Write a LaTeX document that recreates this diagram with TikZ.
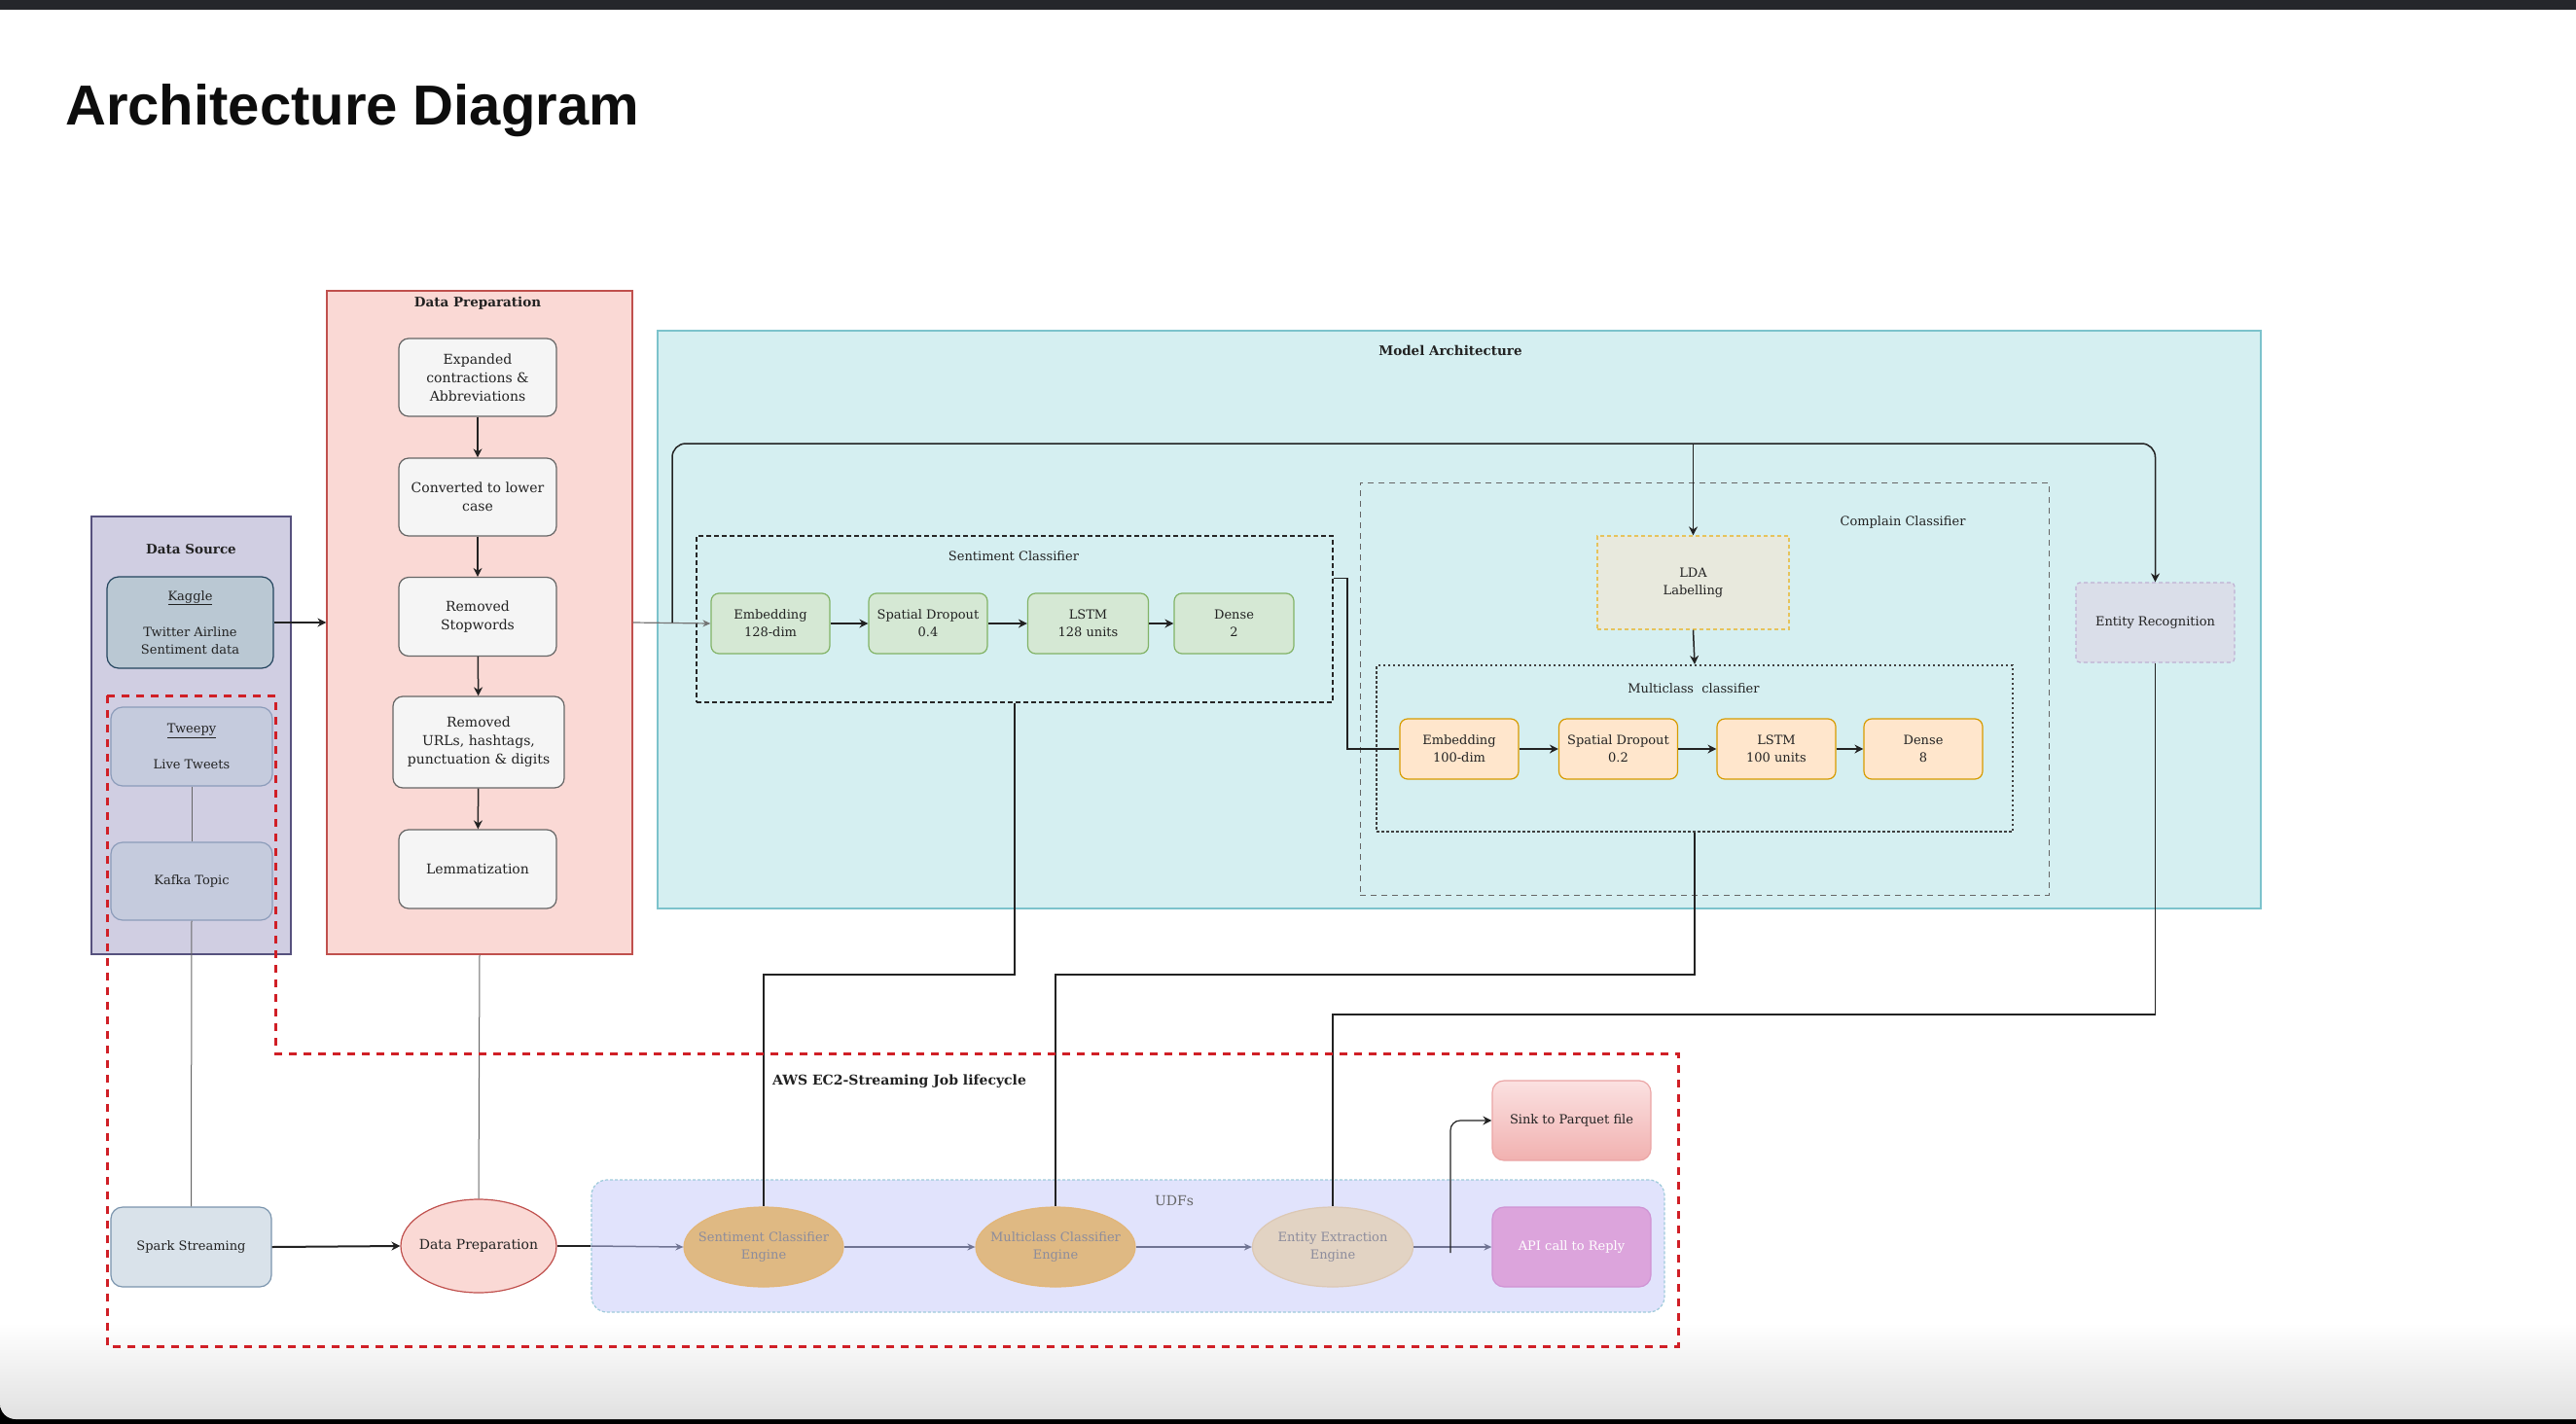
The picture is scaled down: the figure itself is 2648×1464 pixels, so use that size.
\documentclass[tikz,border=0pt]{standalone}
\usepackage{fontspec}
\setmainfont{DejaVu Serif}
\newfontfamily\titlefont{Liberation Sans}
\usetikzlibrary{arrows.meta,calc,shapes.geometric}
\definecolor{topbar}{HTML}{25262B}
\definecolor{dsfill}{HTML}{D0CEE2}
\definecolor{dsdraw}{HTML}{56517E}
\definecolor{kgfill}{HTML}{BAC8D3}
\definecolor{kgdraw}{HTML}{23445D}
\definecolor{twfill}{HTML}{C5CBDD}
\definecolor{twdraw}{HTML}{8C9CBA}
\definecolor{dpfill}{HTML}{FAD9D5}
\definecolor{dpdraw}{HTML}{C0504D}
\definecolor{prfill}{HTML}{F5F5F5}
\definecolor{prdraw}{HTML}{666666}
\definecolor{mafill}{HTML}{D5EFF1}
\definecolor{madraw}{HTML}{7CC3CC}
\definecolor{grfill}{HTML}{D5E8D4}
\definecolor{grdraw}{HTML}{82B366}
\definecolor{orfill}{HTML}{FFE6CC}
\definecolor{ordraw}{HTML}{D79B00}
\definecolor{ldafill}{HTML}{E8E9DD}
\definecolor{ldadraw}{HTML}{E6C35C}
\definecolor{erfill}{HTML}{DADEE9}
\definecolor{erdraw}{HTML}{BFB0D3}
\definecolor{redline}{HTML}{D01F26}
\definecolor{spfill}{HTML}{D9E2EA}
\definecolor{spdraw}{HTML}{7B95AE}
\definecolor{udffill}{HTML}{E1E3FC}
\definecolor{udfdraw}{HTML}{9FCBDB}
\definecolor{engfill}{HTML}{DFB983}
\definecolor{engdraw}{HTML}{E2B679}
\definecolor{eefill}{HTML}{E2D3C3}
\definecolor{eedraw}{HTML}{DCC8B4}
\definecolor{engtext}{HTML}{8C8C9C}
\definecolor{udfarr}{HTML}{707493}
\definecolor{apifill}{HTML}{DCA4DC}
\definecolor{apidraw}{HTML}{CF93D4}
\definecolor{sinktop}{HTML}{FBE1E1}
\definecolor{sinkbot}{HTML}{F1B1B0}
\definecolor{sinkdraw}{HTML}{EBA5A5}
\definecolor{txt}{HTML}{222222}
\tikzset{
  f13/.style={font=\fontsize{13}{18}\selectfont},
  f14/.style={font=\fontsize{14}{19}\selectfont},
  fb/.style={font=\bfseries\fontsize{13.5}{18}\selectfont},
  box/.style={rectangle, align=center, text=txt, inner sep=2pt},
  procbox/.style={box, f14, rounded corners=10pt, draw=prdraw, fill=prfill, line width=1.2pt, minimum width=162pt, minimum height=80pt},
  greenbox/.style={box, f13, rounded corners=8pt, draw=grdraw, fill=grfill, line width=1.2pt, minimum width=122pt, minimum height=62pt},
  orangebox/.style={box, f13, rounded corners=8pt, draw=ordraw, fill=orfill, line width=1.2pt, minimum width=122pt, minimum height=62pt},
  srcbox/.style={box, f13, rounded corners=12pt, line width=1.2pt, minimum width=168pt, minimum height=81pt},
  engine/.style={ellipse, inner sep=0pt, minimum width=164pt, minimum height=82pt, line width=1.2pt},
  engtxt/.style={align=center, f13, text=engtext, inner sep=0pt},
  arr/.style={-{Stealth[length=9pt,width=9pt]}, line width=1.5pt, draw=txt},
  thinline/.style={line width=1.2pt, draw=txt},
  greyline/.style={line width=1pt, draw=black!60},
  udfarrow/.style={-{Stealth[length=8pt,width=7pt]}, line width=1.5pt, draw=udfarr},
  reddash/.style={draw=redline, line width=3pt, dash pattern=on 8pt off 7pt},
}
\begin{document}
\begin{tikzpicture}[x=1pt,y=-1pt]
\useasboundingbox (0,0) rectangle (2648,1464);
% window chrome
\fill[topbar] (0,0) rectangle (2648,10);
\fill[black] (0,1390) rectangle (2648,1464);
\shade[top color=white, bottom color=black!12] (0,1360) -- (2648,1360) -- (2648,1459) -- (16,1459) arc[start angle=270, end angle=180, radius=16pt] -- cycle;
\fill[white] (0,10) rectangle (2648,1361);
\node[anchor=base west, inner sep=0pt, font=\titlefont\bfseries\fontsize{58}{64}\selectfont, text=black!95] (title) at (67,128) {Architecture Diagram};

% ---------------- Data Source ----------------
\node[draw=dsdraw, fill=dsfill, line width=1.2pt, minimum width=205pt, minimum height=450pt, inner sep=0pt] (ds) at (196.5,756) {};
\node[box, fb] (dsl) at (196.5,565) {Data Source};
\node[srcbox, draw=kgdraw, fill=kgfill, minimum width=171pt, minimum height=94pt] (kaggle) at (195.5,640) {\underline{Kaggle}\\[19pt]Twitter Airline\\Sentiment data};
\node[srcbox, draw=twdraw, fill=twfill, minimum width=166pt] (tweepy) at (197,767.5) {\underline{Tweepy}\\[19pt]Live Tweets};
\node[srcbox, draw=twdraw, fill=twfill, minimum width=166pt, minimum height=80pt] (kafka) at (197,906) {Kafka Topic};

% ---------------- Data Preparation ----------------
\node[draw=dpdraw, fill=dpfill, line width=1.2pt, minimum width=314pt, minimum height=682pt, inner sep=0pt] (dpc) at (493,640) {};
\node[box, fb] (dpl) at (491,312) {Data Preparation};
\node[procbox] (p1) at (491,388) {Expanded\\contractions \&\\Abbreviations};
\node[procbox] (p2) at (491,511) {Converted to lower\\case};
\node[procbox, minimum height=81pt] (p3) at (491,634) {Removed\\Stopwords};
\node[procbox, minimum width=176pt, minimum height=94pt] (p4) at (492,763) {Removed\\URLs, hashtags,\\punctuation \& digits};
\node[procbox, minimum height=81pt] (p5) at (491,893.5) {Lemmatization};
\draw[arr] (p1) -- (p2);
\draw[arr] (p2) -- (p3);
\draw[arr] (p3) -- (p4);
\draw[arr] (p4) -- (p5);

% ---------------- Model Architecture ----------------
\node[draw=madraw, fill=mafill, line width=1.5pt, minimum width=1648pt, minimum height=594pt, inner sep=0pt] (ma) at (1500,637) {};
\node[box, fb] (mal) at (1491,360) {Model Architecture};

\node[draw=black!60, line width=1pt, dash pattern=on 6pt off 5pt, minimum width=708pt, minimum height=424pt, inner sep=0pt] (cc) at (1752,708) {};
\node[box, f13] (ccl) at (1956,537) {Complain Classifier};

\node[draw=black!85, line width=1.5pt, dash pattern=on 5pt off 3pt, minimum width=654pt, minimum height=171pt, inner sep=0pt] (sc) at (1043,636.5) {};
\node[box, f13] (scl) at (1042,572) {Sentiment Classifier};
\node[greenbox] (g1) at (792,641) {Embedding\\128-dim};
\node[greenbox] (g2) at (954,641) {Spatial Dropout\\0.4};
\node[greenbox, minimum width=124pt] (g3) at (1118.5,641) {LSTM\\128 units};
\node[greenbox, minimum width=123pt] (g4) at (1268.5,641) {Dense\\2};
\draw[arr] (g1) -- (g2);
\draw[arr] (g2) -- (g3);
\draw[arr] (g3) -- (g4);

\node[box, f13, draw=ldadraw, fill=ldafill, line width=1.2pt, dash pattern=on 4pt off 3pt, minimum width=197pt, minimum height=96pt] (lda) at (1740.5,599) {LDA\\Labelling};

\node[draw=black!75, line width=2pt, dash pattern=on 2.5pt off 2.5pt, minimum width=654pt, minimum height=171pt, inner sep=0pt] (mc) at (1742,769.5) {};
\node[box, f13] (mcl) at (1741,708) {Multiclass\ \ classifier};
\node[orangebox] (o1) at (1500,770) {Embedding\\100-dim};
\node[orangebox] (o2) at (1663.5,770) {Spatial Dropout\\0.2};
\node[orangebox] (o3) at (1826,770) {LSTM\\100 units};
\node[orangebox] (o4) at (1977,770) {Dense\\8};
\draw[arr] (o1) -- (o2);
\draw[arr] (o2) -- (o3);
\draw[arr] (o3) -- (o4);

\node[box, f13, draw=erdraw, fill=erfill, line width=1.2pt, dash pattern=on 4pt off 3pt, rounded corners=4pt, minimum width=163pt, minimum height=82pt] (er) at (2215.5,640) {Entity Recognition};

% connectors inside model architecture
\coordinate (j) at (691,640);
\coordinate (loopy) at (0,456);
\draw[line width=1.2pt, draw=black!55, -{Stealth[length=8pt,width=7pt]}] (dpc.east) -- (g1.west);
\draw[arr, rounded corners=14pt] (j) |- (er.north |- loopy) -- (er.north);
\draw[arr] (lda.north |- loopy) -- (lda.north);
\draw[arr] (lda.south) -- (mc.north);
\draw[arr] (kaggle.east) -- (dpc.west |- kaggle.east);
\coordinate (scx) at ($(sc.north east)!0.256!(sc.south east)$);
\draw[line width=1.5pt, draw=txt] (scx) -- ++(14,0) |- (o1.west);

% ---------------- bottom pipeline ----------------
\node[draw=udfdraw, fill=udffill, line width=1.2pt, dash pattern=on 3pt off 2pt, rounded corners=16pt, minimum width=1103pt, minimum height=136pt, inner sep=0pt] (udf) at (1159.5,1281) {};
\node[box, f14, text=black!60] (udflabel) at (1207,1234) {UDFs};

\node[srcbox, draw=spdraw, fill=spfill, minimum width=165pt, minimum height=82pt] (spark) at (196.5,1282) {Spark Streaming};
\node[engine, draw=dpdraw, fill=dpfill, minimum width=160pt, minimum height=96pt,
      label={[engtxt, text=txt, font=\fontsize{14}{19}\selectfont]center:Data Preparation}] (dpe) at (492,1281) {};
\node[engine, draw=engdraw, fill=engfill,
      label={[engtxt]center:Sentiment Classifier\\Engine}] (se) at (785,1282) {};
\node[engine, draw=engdraw, fill=engfill,
      label={[engtxt]center:Multiclass Classifier\\Engine}] (mce) at (1085,1282) {};
\node[engine, draw=eedraw, fill=eefill, minimum width=165pt,
      label={[engtxt]center:Entity Extraction\\Engine}] (eee) at (1370,1282) {};
\node[box, f13, text=white, draw=apidraw, fill=apifill, line width=1.2pt, rounded corners=12pt, minimum width=163pt, minimum height=82pt] (api) at (1615.5,1282) {API call to Reply};
\node[box, f13, draw=sinkdraw, top color=sinktop, bottom color=sinkbot, line width=1.2pt, rounded corners=12pt, minimum width=163pt, minimum height=82pt] (sink) at (1615.5,1152) {Sink to Parquet file};
\node[anchor=west, inner sep=0pt, font=\bfseries\fontsize{14}{18}\selectfont, text=txt] (aws) at (794,1112) {AWS EC2-Streaming Job lifecycle};

\draw[greyline] (tweepy.south) -- (kafka.north);
\draw[greyline] (kafka.south) -- (spark.north);
\draw[greyline] (dpc.south) -- (dpe.north);
\draw[arr, line width=2pt] (spark.east) -- (dpe.west);
\draw[line width=2pt, draw=txt] (dpe.east) -- (udf.west |- dpe.east);
\draw[udfarrow] (udf.west |- dpe.east) -- (se.west);
\draw[udfarrow] (se.east) -- (mce.west);
\draw[udfarrow] (mce.east) -- (eee.west);
\draw[udfarrow] (eee.east) -- (api.west);
\coordinate (br) at (1491,1288);
\draw[arr, rounded corners=10pt, line width=1.2pt] (br) |- (sink.west);

% long drops from the model to the engines
\coordinate (ya) at (0,1002);
\coordinate (yb) at (0,1043);
\draw[thinline] (sc.south) -- (sc.south |- ya) -| (se.north);
\draw[thinline] (mc.south) -- (mc.south |- ya) -| (mce.north);
\draw[thinline] (er.south) -- (er.south |- yb) -| (eee.north);

% AWS EC2 streaming boundary
\draw[reddash] (110,715) -- (283,715) -- (283,1083) -- (1725,1083) -- (1725,1384) -- (110,1384) -- cycle;
\end{tikzpicture}
\end{document}
